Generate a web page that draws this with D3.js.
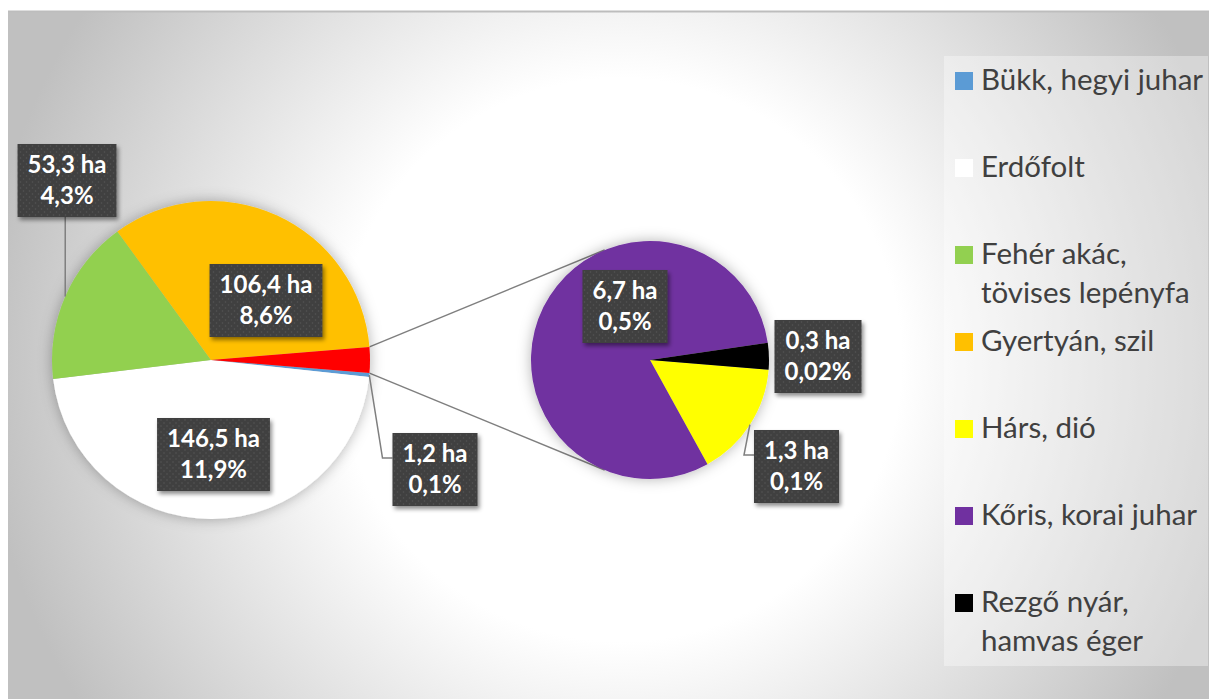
<!DOCTYPE html>
<html>
<head>
<meta charset="utf-8">
<script src="https://cdn.jsdelivr.net/npm/d3@7"></script>
<style>
  body { margin: 0; background: #fff; }
  svg { display: block; font-family: Lato, "Open Sans", sans-serif; }
</style>
</head>
<body>
<svg id="chart"></svg>
<script>
const width = 1209;
const height = 699;

// main pie categories (the rest goes to the second pie)
const mainCats = ['Bükk, hegyi juhar', 'Erdőfolt', 'Fehér akác, tövises lepényfa', 'Gyertyán, szil'];
const mainValues = [1.2, 146.5, 53.3, 106.4];
const mainPct = ['0,1%', '11,9%', '4,3%', '8,6%'];

const subCats = ['Hárs, dió', 'Kőris, korai juhar', 'Rezgő nyár, hamvas éger'];
const subValues = [1.3, 6.7, 0.3];
const subPct = ['0,1%', '0,5%', '0,02%'];

const colors = {
  'Bükk, hegyi juhar': '#5B9BD5',
  'Erdőfolt': '#FFFFFF',
  'Fehér akác, tövises lepényfa': '#92D050',
  'Gyertyán, szil': '#FFC000',
  'Hárs, dió': '#FFFF00',
  'Kőris, korai juhar': '#7030A0',
  'Rezgő nyár, hamvas éger': '#000000',
  'other': '#FF0000'
};

// label box centres, relative to their pie centre
const labelPos = {
  'Bükk, hegyi juhar': [224, 109.5],
  'Erdőfolt': [2.5, 94.5],
  'Fehér akác, tövises lepényfa': [-144, -179.5],
  'Gyertyán, szil': [55, -59.5],
  'Hárs, dió': [146.5, 106.5],
  'Kőris, korai juhar': [-25, -53.5],
  'Rezgő nyár, hamvas éger': [168, -3.5]
};

const mainC = [211, 360], mainR = 159;
const subC = [650, 360], subR = 119;

const svg = d3.select('#chart').attr('width', width).attr('height', height);
const defs = svg.append('defs');

const grad = defs.append('radialGradient').attr('id', 'bg')
  .attr('gradientUnits', 'userSpaceOnUse')
  .attr('cx', 620).attr('cy', 360).attr('r', 640);
grad.append('stop').attr('offset', 0.44).attr('stop-color', '#ffffff');
grad.append('stop').attr('offset', 1).attr('stop-color', '#c0c0c0');

const dots = defs.append('pattern').attr('id', 'dots')
  .attr('patternUnits', 'userSpaceOnUse').attr('width', 6).attr('height', 6);
dots.append('rect').attr('width', 6).attr('height', 6).attr('fill', '#3f3f3f');
dots.append('circle').attr('cx', 1.5).attr('cy', 1.5).attr('r', 0.8).attr('fill', '#585858');
dots.append('circle').attr('cx', 4.5).attr('cy', 4.5).attr('r', 0.8).attr('fill', '#585858');

const glow = defs.append('filter').attr('id', 'glow')
  .attr('x', '-30%').attr('y', '-30%').attr('width', '160%').attr('height', '160%');
glow.append('feDropShadow').attr('dx', 0).attr('dy', 0).attr('stdDeviation', 7)
  .attr('flood-color', '#000').attr('flood-opacity', 0.3);

const boxShadow = defs.append('filter').attr('id', 'boxShadow')
  .attr('x', '-20%').attr('y', '-20%').attr('width', '150%').attr('height', '150%');
boxShadow.append('feDropShadow').attr('dx', 2).attr('dy', 3).attr('stdDeviation', 2)
  .attr('flood-color', '#000').attr('flood-opacity', 0.45);

// background
svg.append('rect').attr('x', 8).attr('y', 11).attr('width', width - 8).attr('height', height - 11)
  .attr('fill', 'url(#bg)');
svg.append('line').attr('x1', 8).attr('x2', width).attr('y1', 11.5).attr('y2', 11.5)
  .attr('stroke', '#bdbdbd').attr('stroke-width', 2);

// pies
const subTotal = d3.sum(subValues);
const mainData = mainCats.map((c, i) => ({name: c, value: mainValues[i], pct: mainPct[i]}));
mainData.push({name: 'other', value: subTotal});
const subData = subCats.map((c, i) => ({name: c, value: subValues[i], pct: subPct[i]}));

const total = d3.sum(mainData, d => d.value);
const otherAngle = 2 * Math.PI * subTotal / total;
const start = Math.PI / 2 + otherAngle / 2;

const pie = d3.pie().sort(null).value(d => d.value)
  .startAngle(start).endAngle(start + 2 * Math.PI);

const mainArcs = pie(mainData);
const subArcs = pie(subData);

const arcMain = d3.arc().innerRadius(0).outerRadius(mainR);
const arcSub = d3.arc().innerRadius(0).outerRadius(subR);

const pt = (c, r, a) => [c[0] + r * Math.sin(a), c[1] - r * Math.cos(a)];

// connector lines between pies
const otherArc = mainArcs[mainArcs.length - 1];
const pTop = pt(mainC, mainR, otherArc.startAngle);
const pBot = pt(mainC, mainR, otherArc.endAngle);
function tangent(p, upper) {
  const dx = p[0] - subC[0], dy = p[1] - subC[1];
  const d = Math.hypot(dx, dy);
  const base = Math.atan2(dy, dx);
  const off = Math.acos(subR / d);
  const a = upper ? base + off : base - off;
  return [subC[0] + subR * Math.cos(a), subC[1] + subR * Math.sin(a)];
}
const line = d3.line();
const connectors = svg.append('g').attr('fill', 'none').attr('stroke', '#7f7f7f').attr('stroke-width', 1.5);
connectors.append('path').attr('d', line([pTop, tangent(pTop, true)]));
connectors.append('path').attr('d', line([pBot, tangent(pBot, false)]));

svg.append('g').attr('transform', `translate(${mainC})`).attr('filter', 'url(#glow)')
  .selectAll('path').data(mainArcs).join('path')
  .attr('d', arcMain).attr('fill', d => colors[d.data.name]);

svg.append('g').attr('transform', `translate(${subC})`).attr('filter', 'url(#glow)')
  .selectAll('path').data(subArcs).join('path')
  .attr('d', arcSub).attr('fill', d => colors[d.data.name]);

// leader lines
const leaders = svg.append('g').attr('fill', 'none').attr('stroke', '#7f7f7f').attr('stroke-width', 1.5);
const boxH = 73;

// data labels
const fmt = v => v.toFixed(1).replace('.', ',') + ' ha';
function drawLabel(arcD, c, r) {
  const name = arcD.data.name;
  const off = labelPos[name];
  const cx = c[0] + off[0], cy = c[1] + off[1];
  const g = svg.append('g').attr('transform', `translate(${cx},${cy})`);
  const bg = g.append('rect').attr('fill', 'url(#dots)').attr('filter', 'url(#boxShadow)');
  const t = g.append('text').attr('fill', '#fff').attr('font-weight', 700)
    .attr('font-size', 24).attr('text-anchor', 'middle');
  t.append('tspan').attr('x', 0).attr('y', -7.5).text(fmt(arcD.data.value));
  t.append('tspan').attr('x', 0).attr('y', 23.5).text(arcD.data.pct);
  const w = d3.max(t.selectAll('tspan').nodes(), n => n.getComputedTextLength()) + 20;
  bg.attr('x', -w / 2).attr('y', -boxH / 2).attr('width', w).attr('height', boxH);

  // only labels placed outside the pie get a leader line
  if (Math.hypot(off[0], off[1]) < r) return;
  const mid = (arcD.startAngle + arcD.endAngle) / 2;
  const p = pt(c, r, mid);
  if (p[1] > cy + boxH / 2) {
    leaders.append('path').attr('d', line([p, [p[0], cy + boxH / 2]]));
  } else if (p[0] < cx - w / 2 && p[1] < cy - boxH / 2) {
    const ey = cy - boxH / 2 + 25;
    leaders.append('path').attr('d', line([p, [cx - w / 2 - 10, ey], [cx - w / 2, ey]]));
  }
}
mainArcs.filter(d => d.data.name !== 'other').forEach(d => drawLabel(d, mainC, mainR));
subArcs.forEach(d => drawLabel(d, subC, subR));

// legend
const legendCats = mainCats.concat(subCats);
const legend = svg.append('g');
legend.append('rect').attr('x', 944).attr('y', 56).attr('width', 264).attr('height', 610)
  .attr('fill', '#ffffff').attr('fill-opacity', 0.35);
const maxW = 226;
legendCats.forEach((name, i) => {
  const y = 81 + i * 87;
  legend.append('rect').attr('x', 955).attr('y', y - 9).attr('width', 18).attr('height', 18)
    .attr('fill', colors[name]);
  const t = legend.append('text').attr('x', 981).attr('y', y + 9)
    .attr('fill', '#404040').attr('font-size', 29.5);
  const words = name.split(' ');
  let cur = [];
  let ts = t.append('tspan').attr('x', 981).attr('y', y + 9);
  words.forEach(wd => {
    cur.push(wd);
    ts.text(cur.join(' '));
    if (ts.node().getComputedTextLength() > maxW && cur.length > 1) {
      cur.pop();
      ts.text(cur.join(' '));
      cur = [wd];
      const ny = +ts.attr('y') + 39;
      ts = t.append('tspan').attr('x', 981).attr('y', ny).text(wd);
    }
  });
});
</script>
</body>
</html>
